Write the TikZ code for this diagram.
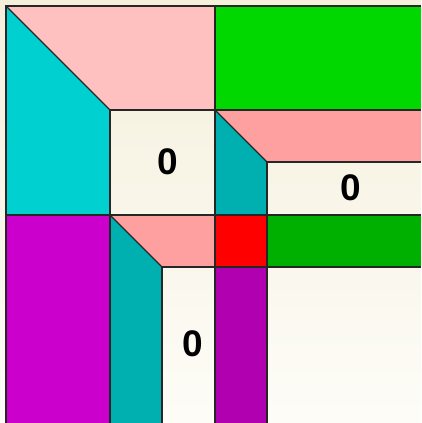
\documentclass[tikz,border=0pt]{standalone}
\usepackage{fontspec}
\setmainfont{Liberation Sans}
\begin{document}
\begin{tikzpicture}[x=1pt,y=-1pt,
  edge/.style={draw=black!85,line width=1.1pt,line join=miter},
  digit/.style={font=\fontsize{37}{37}\selectfont\bfseries,text=black,inner sep=0pt}]
\definecolor{bgtop}{RGB}{245,240,220}
\definecolor{bgbot}{RGB}{253,252,247}
\definecolor{cyanA}{RGB}{0,208,208}
\definecolor{pinkA}{RGB}{255,192,192}
\definecolor{greenA}{RGB}{0,216,0}
\definecolor{salmonB}{RGB}{255,160,160}
\definecolor{tealB}{RGB}{0,176,176}
\definecolor{greenB}{RGB}{0,176,0}
\definecolor{redC}{RGB}{255,0,0}
\definecolor{magA}{RGB}{204,0,204}
\definecolor{purB}{RGB}{176,0,176}
\useasboundingbox (0,0) rectangle (421,423);
\shade[top color=bgtop,bottom color=bgbot] (0,0) rectangle (421,423);
% level 1
\fill[cyanA] (6,6) -- (110,110) -- (110,215) -- (6,215) -- cycle;
\fill[pinkA] (6,6) -- (421,6) -- (215,6) -- (215,110) -- (110,110) -- cycle;
\fill[greenA] (215,6) rectangle (421,110);
\fill[magA] (6,215) rectangle (110,423);
% level 2
\fill[tealB] (215,110) -- (267,162) -- (267,215) -- (215,215) -- cycle;
\fill[salmonB] (215,110) -- (421,110) -- (421,162) -- (267,162) -- cycle;
\fill[greenB] (267,215) rectangle (421,267);
\fill[redC] (215,215) rectangle (267,267);
\fill[tealB] (110,215) -- (162,267) -- (162,423) -- (110,423) -- cycle;
\fill[salmonB] (110,215) -- (215,215) -- (215,267) -- (162,267) -- cycle;
\fill[purB] (215,267) rectangle (267,423);
% outlines
\draw[edge] (6,423) -- (6,6) -- (421,6);
\draw[edge] (6,6) -- (110,110);
\draw[edge] (110,423) -- (110,110) -- (421,110);
\draw[edge] (215,6) -- (215,423);
\draw[edge] (6,215) -- (421,215);
\draw[edge] (215,110) -- (267,162);
\draw[edge] (267,423) -- (267,162) -- (421,162);
\draw[edge] (110,215) -- (162,267);
\draw[edge] (162,423) -- (162,267) -- (421,267);
% labels
\node[digit] (sq) at (167.5,162) {0};
\node[digit] (tr) at (350.5,188) {0};
\node[digit] (bl) at (193,344) {0};
\end{tikzpicture}
\end{document}
